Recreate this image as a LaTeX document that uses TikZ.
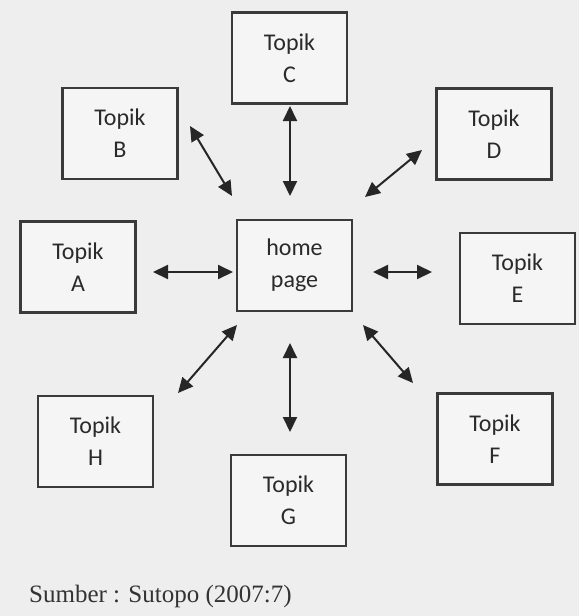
\documentclass[tikz,border=0pt]{standalone}
\usepackage{fontspec}
\usetikzlibrary{arrows.meta}
\newfontfamily\boxfont{Carlito}
\newfontfamily\capfont{Liberation Serif}
\definecolor{bgcol}{HTML}{EEEEEE}
\definecolor{boxline}{HTML}{3A3A3A}
\definecolor{boxtext}{HTML}{2A2A2A}
\tikzset{
  topicbox/.style={draw=boxline, line width=2.2pt, fill=bgcol!60!white, minimum width=115pt, minimum height=91pt,
    inner sep=0pt, align=center, text=boxtext, font=\boxfont\fontsize{24}{32}\selectfont},
  biarrow/.style={line width=2pt, draw=black!85, {Triangle[length=15pt,width=14pt]}-{Triangle[length=15pt,width=14pt]}}
}
\begin{document}
\begin{tikzpicture}[x=1pt,y=-1pt]
\useasboundingbox (0,0) rectangle (579,616);
\fill[bgcol] (0,0) rectangle (579,616);
% boxes
\node[topicbox] (C) at (289.5,58) {Topik\\C};
\node[topicbox] (B) at (120,133.5) {Topik\\B};
\node[topicbox] (D) at (494,134) {Topik\\D};
\node[topicbox] (A) at (78,267) {Topik\\A};
\node[topicbox] (home) at (294.5,265.5) {home\\page};
\node[topicbox] (E) at (517.5,278.5) {Topik\\E};
\node[topicbox] (H) at (95.5,441.5) {Topik\\H};
\node[topicbox] (G) at (288.5,500.5) {Topik\\G};
\node[topicbox] (F) at (495,439) {Topik\\F};
% arrow end points
\coordinate (b1) at (190,126); \coordinate (b2) at (232,196);
\coordinate (c1) at (290,106); \coordinate (c2) at (290,196);
\coordinate (d1) at (422,150); \coordinate (d2) at (365,197);
\coordinate (a1) at (153,272); \coordinate (a2) at (233,272);
\coordinate (e1) at (373,272); \coordinate (e2) at (432,272);
\coordinate (h1) at (237,325); \coordinate (h2) at (178,393);
\coordinate (g1) at (290,343); \coordinate (g2) at (290,432);
\coordinate (f1) at (363,325); \coordinate (f2) at (413,383);
\draw[biarrow] (b1) -- (b2);
\draw[biarrow] (c1) -- (c2);
\draw[biarrow] (d1) -- (d2);
\draw[biarrow] (a1) -- (a2);
\draw[biarrow] (e1) -- (e2);
\draw[biarrow] (h1) -- (h2);
\draw[biarrow] (g1) -- (g2);
\draw[biarrow] (f1) -- (f2);
% caption
\node[anchor=west, text=black!80, font=\capfont\fontsize{25}{30}\selectfont, inner sep=0pt] (cap) at (29,596) {Sumber : Sutopo (2007:7)};
\end{tikzpicture}
\end{document}
